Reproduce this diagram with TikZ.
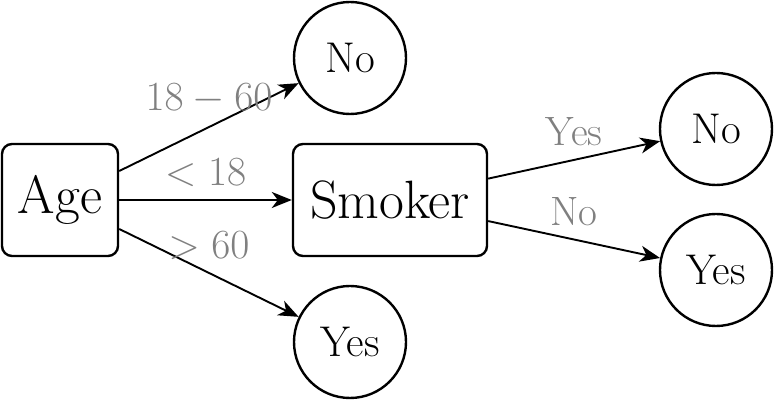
\documentclass[tikz,border=0pt]{standalone}
\usepackage{tikz}
\usetikzlibrary{arrows.meta, positioning}
\tikzset{
  decision/.style={draw, rounded corners=5pt, line width=1.2pt, minimum width=58pt, minimum height=56pt, font=\fontsize{27}{32}\selectfont},
  leaf/.style={draw, circle, line width=1.2pt, minimum size=56pt, inner sep=0pt, font=\fontsize{21.5}{26}\selectfont},
  branch/.style={text=gray, font=\fontsize{20.5}{24}\selectfont, above=3pt}
}

\begin{document}
\begin{tikzpicture}[>={Stealth[length=10pt, width=8pt, inset=3pt]}, line width=0.95pt, node distance=165pt]
\useasboundingbox (-30pt,-100.5pt) rectangle (358.5pt,100pt);
\node[decision] (age) {Age};
\node[decision, right of =age, minimum width=97pt] (smoker) {Smoker};
\node[leaf] (no1) at (145pt,71pt) {No};
\node[leaf] (yes1) at (145pt,-71pt) {Yes};
\node[leaf] (no2) at (328pt,35.5pt) {No};
\node[leaf] (yes2) at (328pt,-35pt) {Yes};
\draw[->] (age) -- node[branch]{$18-60$} (no1);
\draw[->] (age) -- node[branch]{$<18$} (smoker);
\draw[->] (age) -- node[branch]{$>60$} (yes1);
\draw[->] (smoker) -- node[branch]{Yes} (no2);
\draw[->] (smoker) -- node[branch]{No} (yes2);
\end{tikzpicture}
\end{document}
